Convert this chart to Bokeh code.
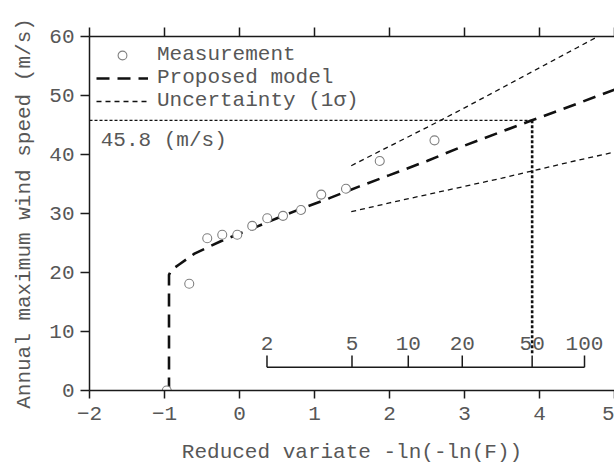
import numpy as np
from bokeh.plotting import figure
from bokeh.models import LinearAxis, FixedTicker, Legend, LegendItem, Range1d
from bokeh.core.properties import value
from bokeh.embed import file_html
from bokeh.resources import INLINE

# ---- data ----
meas_x = [-0.97, -0.67, -0.43, -0.23, -0.03, 0.17, 0.37, 0.58, 0.82, 1.09, 1.42, 1.87, 2.60]
meas_y = [0.0, 18.1, 25.8, 26.4, 26.4, 27.9, 29.2, 29.6, 30.6, 33.2, 34.2, 38.9, 42.4]

model_x = [-0.94, -0.94, -0.91, -0.80, -0.70, -0.60, -0.45, -0.25, 0.0, 0.2, 0.5, 0.8, 1.2, 1.6, 2.0, 2.5, 3.0, 3.5, 3.9, 4.5, 5.0]
model_y = [0.0, 19.6, 20.4, 21.4, 22.3, 23.2, 24.1, 25.3, 26.6, 27.6, 29.2, 30.7, 32.6, 34.6, 36.5, 38.9, 41.5, 43.9, 45.8, 48.6, 51.0]

unc_x = [1.49, 2.0, 2.5, 3.0, 3.5, 4.0, 4.5, 5.0]
unc_upper = [38.1, 41.4, 44.6, 47.9, 51.3, 54.7, 58.1, 61.5]
unc_lower = [30.3, 31.8, 33.2, 34.6, 36.0, 37.5, 39.0, 40.4]

return_periods = [2, 5, 10, 20, 50, 100]
return_labels = ["2", "5", "10", "20", "50", "100"]
design_T = 50
design_value = 45.8
design_label = "45.8 (m/s)"

x_ticks = [-2, -1, 0, 1, 2, 3, 4, 5]
y_ticks = [0, 10, 20, 30, 40, 50, 60]

# ---- styling ----
FONT = "Liberation Mono"
TXT = "#575757"
FS = "21px"

def reduced_variate(T):
    return -np.log(-np.log(1.0 - 1.0 / np.asarray(T, dtype=float)))

rp_x = reduced_variate(return_periods)
design_x = float(reduced_variate([design_T])[0])

p = figure(width=614, height=467, output_backend="svg", toolbar_location=None,
           x_range=Range1d(-2, 5), y_range=Range1d(0, 60),
           min_border_left=89, min_border_right=0, min_border_top=36, min_border_bottom=77)
p.outline_line_color = None
p.grid.visible = False
p.background_fill_color = "white"
p.border_fill_color = "white"

for ax in (p.xaxis[0], p.yaxis[0]):
    ax.axis_line_color = "#1a1a1a"
    ax.axis_line_width = 1.5
    ax.major_tick_line_color = "#1a1a1a"
    ax.major_tick_line_width = 1.5
    ax.major_tick_in = 0
    ax.major_tick_out = 9
    ax.minor_tick_line_color = None
    ax.major_label_text_font = FONT
    ax.major_label_text_font_size = FS
    ax.major_label_text_color = TXT
    ax.axis_label_text_font = FONT
    ax.axis_label_text_font_size = FS
    ax.axis_label_text_font_style = "normal"
    ax.axis_label_text_color = TXT

p.xaxis[0].ticker = FixedTicker(ticks=x_ticks)
p.yaxis[0].ticker = FixedTicker(ticks=y_ticks)
p.xaxis[0].axis_label = "Reduced variate -ln(-ln(F))"
p.yaxis[0].axis_label = "Annual maximum wind speed (m/s)"
p.xaxis[0].major_tick_out = 8
p.xaxis[0].major_label_standoff = 8
p.yaxis[0].major_label_standoff = 6
p.xaxis[0].axis_label_standoff = 18
p.yaxis[0].axis_label_standoff = 10

top = LinearAxis(ticker=FixedTicker(ticks=x_ticks),
                 major_label_overrides={t: "" for t in x_ticks},
                 major_label_text_font_size="10px",
                 axis_line_color="#1a1a1a", axis_line_width=1.5,
                 major_tick_line_color="#1a1a1a", major_tick_line_width=1.5,
                 major_tick_in=0, major_tick_out=9, minor_tick_line_color=None,
                 major_label_standoff=0)
p.add_layout(top, "above")

# uncertainty lines
r_unc = p.line(unc_x, unc_upper, line_color="#111111", line_width=1.3, line_dash="5 4")
p.line(unc_x, unc_lower, line_color="#111111", line_width=1.3, line_dash="5 4")

# design value guide lines
p.line([-2, design_x], [design_value, design_value], line_color="#111111", line_width=1.2, line_dash="3 2")
p.line([design_x, design_x], [design_value, 6.0], line_color="#111111", line_width=2.6, line_dash="3 2")
p.text([-1.85], [42.4], text=[design_label], text_font=value(FONT), text_font_size=FS,
       text_color=TXT, text_align="left", text_baseline="middle")

# model
r_model = p.line(model_x, model_y, line_color="#111111", line_width=2.6, line_dash="13 8")

# measurements
r_meas = p.scatter(meas_x, meas_y, size=9, marker="circle", line_color="#808080",
                   fill_color="white", line_width=1.1)

# return period scale
rp_axis_y = 3.95
rp_tick_top = 5.95
p.line([rp_x[0], rp_x[-1]], [rp_axis_y, rp_axis_y], line_color="#1a1a1a", line_width=1.5)
p.segment(x0=list(rp_x), y0=[rp_axis_y] * len(rp_x), x1=list(rp_x), y1=[rp_tick_top] * len(rp_x),
          line_color="#1a1a1a", line_width=1.5)
p.text(list(rp_x), [8.0] * len(rp_x), text=return_labels, text_font=value(FONT), text_font_size=FS,
       text_color=TXT, text_align="center", text_baseline="middle")

legend = Legend(items=[LegendItem(label="Measurement", renderers=[r_meas]),
                       LegendItem(label="Proposed model", renderers=[r_model]),
                       LegendItem(label="Uncertainty (1σ)", renderers=[r_unc])],
                location="top_left")
legend.margin = 7
legend.padding = 8
legend.spacing = 0
legend.glyph_width = 52
legend.glyph_height = 22
legend.label_height = 22
legend.label_standoff = 9
legend.label_text_font = FONT
legend.label_text_font_size = FS
legend.label_text_color = TXT
legend.border_line_color = None
legend.background_fill_alpha = 0
p.add_layout(legend, "center")

open("out.html", "w").write(file_html(p, INLINE))
